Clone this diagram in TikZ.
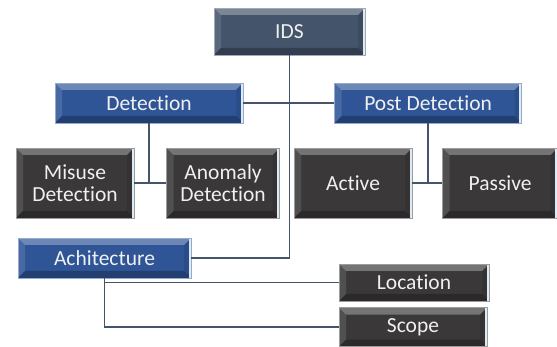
\documentclass[tikz,border=0pt]{standalone}
\usepackage{fontspec}
\setmainfont{Carlito}[Ligatures=NoCommon]
\usepackage{tikz}
\usetikzlibrary{positioning}

\definecolor{slate}{HTML}{44546A}
\definecolor{royal}{HTML}{2F5597}
\definecolor{coal}{HTML}{3A3838}
\definecolor{edge}{HTML}{DDEBF7}

\begin{document}
\begin{tikzpicture}[
  x=1pt, y=-1pt,
  bevel/.style={path picture={
    \path (path picture bounding box.north west) coordinate (pnw)
          (path picture bounding box.north east) coordinate (pne)
          (path picture bounding box.south west) coordinate (psw)
          (path picture bounding box.south east) coordinate (pse);
    \fill[white, opacity=.30] (pnw) -- (pne) -- ([shift={(-7pt,-7pt)}]pne)
      -- ([shift={(7pt,-7pt)}]pnw) -- cycle;
    \fill[white, opacity=.12] (pnw) -- ([shift={(7pt,-7pt)}]pnw)
      -- ([shift={(7pt,7pt)}]psw) -- (psw) -- cycle;
    \fill[black, opacity=.25] (psw) -- ([shift={(7pt,7pt)}]psw)
      -- ([shift={(-7pt,7pt)}]pse) -- (pse) -- cycle;
    \fill[black, opacity=.10] (pse) -- ([shift={(-7pt,7pt)}]pse)
      -- ([shift={(-7pt,-7pt)}]pne) -- (pne) -- cycle;
    \fill[edge] ([xshift=-2.5pt]pne) rectangle (pse);
  }},
  box/.style={draw=#1!50!white, line width=0.6pt, fill=#1, bevel,
              text=white!94!black, align=center, inner sep=0pt,
              font=\fontsize{21.5}{22}\selectfont},
  root/.style={box=slate, minimum width=151pt, minimum height=47pt},
  branch/.style={box=royal, minimum height=40pt},
  leaf/.style={box=coal, minimum height=70pt},
  link/.style={draw=slate, line width=1.8pt}
]
\useasboundingbox (0,0) rectangle (557,347);

\node[root] (ids) at (289.5,31.5) {IDS};

\node[branch, minimum width=188pt] (detect) at (149,103) {Detection};
\node[branch, minimum width=187pt, right=91pt of detect] (postdet) {Post Detection};
\node[branch, minimum width=173pt] (achi) at (104.5,258) {Achitecture};

\node[leaf, minimum width=118pt] (misuse) at (75,183) {Misuse\\Detection};
\node[leaf, minimum width=113pt, right=32pt of misuse] (anomaly) {Anomaly\\Detection};
\node[leaf, minimum width=118pt] (active) at (353,183) {Active};
\node[leaf, minimum width=115pt, right=30pt of active] (passive) {Passive};

\node[box=coal, minimum width=150pt, minimum height=37pt] (location) at (414,282.5) {Location};
\node[box=coal, minimum width=148pt, minimum height=39pt, below=6pt of location.south west, anchor=north west] (scope) {Scope};

% connectors
\draw[link] (ids.south) |- (achi.east);
\draw[link] (detect.east) -- (postdet.west);
\draw[link] (detect.south) -- (detect.south |- misuse.east);
\draw[link] (misuse.east) -- (anomaly.west);
\draw[link] (postdet.south) -- (postdet.south |- active.east);
\draw[link] (active.east) -- (passive.west);
\draw[link] (achi.south) |- (scope.west);
\draw[link] (achi.south |- location.west) -- (location.west);
\end{tikzpicture}
\end{document}
